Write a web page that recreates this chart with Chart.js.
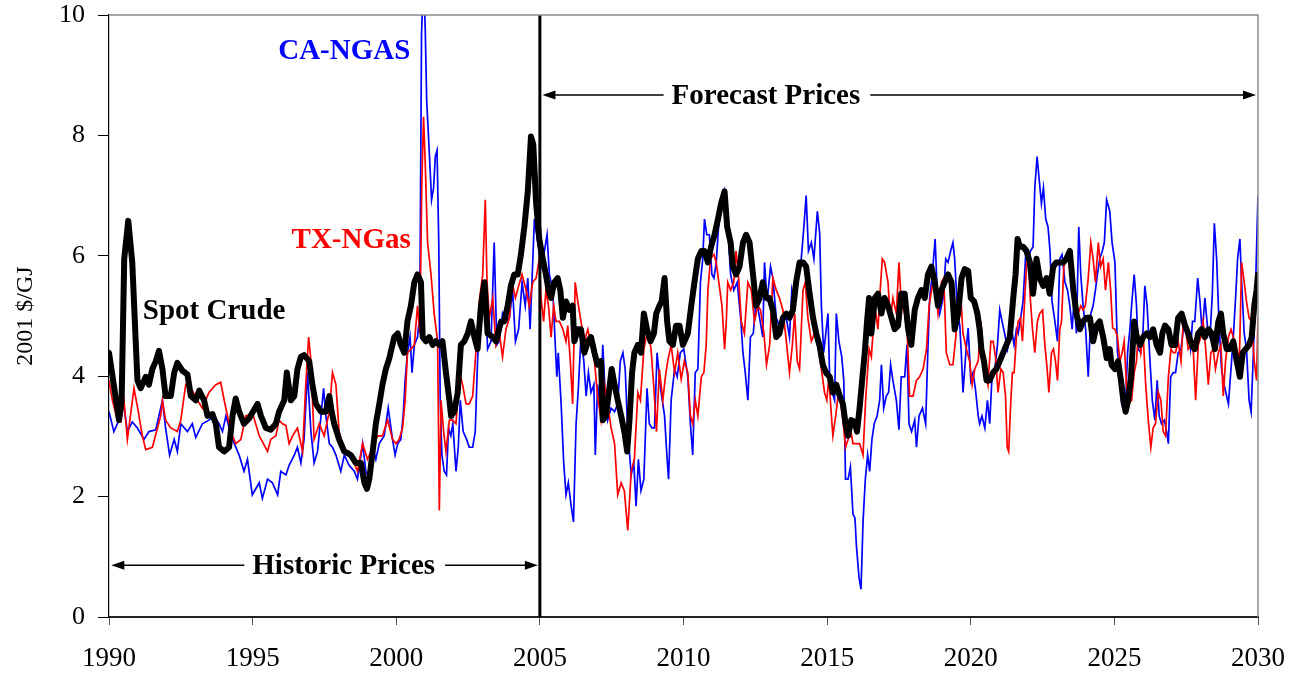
<!DOCTYPE html>
<html>
<head>
<meta charset="utf-8">
<script src="https://cdn.jsdelivr.net/npm/chart.js@4.4.1/dist/chart.umd.min.js"></script>
<style>
  html, body { margin: 0; padding: 0; background: #ffffff; }
  #wrap { width: 1306px; height: 677px; }
</style>
</head>
<body>
<div id="wrap"><canvas id="chart" width="1306" height="677"></canvas></div>
<script>
// Axis ticks
const xTickYears = [1990, 1995, 2000, 2005, 2010, 2015, 2020, 2025, 2030];
const yTickValues = [0, 2, 4, 6, 8, 10];
// Boundary between historic and forecast prices
const forecastStartYear = 2005;

// Spot crude oil price, 2001 $/GJ
const crudeYears = [
  1990.00,1990.35,1990.44,1990.53,1990.67,1990.81,1990.93,1990.99,1991.10,1991.28,1991.39,1991.51,1991.63,1991.74,1991.86,1991.97,
  1992.15,1992.27,1992.38,1992.56,1992.73,1992.85,1993.02,1993.14,1993.31,1993.43,1993.60,1993.72,1993.83,1994.01,1994.18,1994.30,
  1994.41,1994.53,1994.70,1994.88,1995.17,1995.29,1995.46,1995.63,1995.81,1995.92,1996.10,1996.19,1996.33,1996.45,1996.56,1996.68,
  1996.79,1996.97,1997.08,1997.20,1997.38,1997.55,1997.67,1997.75,1997.84,1998.01,1998.19,1998.42,1998.59,1998.77,1998.89,1998.98,
  1999.06,1999.18,1999.29,1999.41,1999.52,1999.64,1999.76,1999.93,2000.05,2000.16,2000.28,2000.39,2000.51,2000.63,2000.74,2000.86,
  2000.92,2001.03,2001.15,2001.27,2001.38,2001.50,2001.61,2001.73,2001.85,2001.91,2002.02,2002.14,2002.25,2002.37,2002.49,2002.60,
  2002.72,2002.83,2002.95,2003.07,2003.18,2003.36,2003.47,2003.65,2003.76,2003.88,2003.99,2004.11,2004.23,2004.34,2004.46,2004.58,
  2004.69,2004.77,2004.87,2004.98,2005.10,2005.21,2005.30,2005.39,2005.50,2005.62,2005.71,2005.80,2005.91,2006.03,2006.14,2006.20,
  2006.32,2006.43,2006.55,2006.67,2006.78,2006.90,2007.01,2007.13,2007.19,2007.30,2007.42,2007.50,2007.60,2007.71,2007.83,2007.94,
  2008.04,2008.12,2008.21,2008.29,2008.41,2008.52,2008.62,2008.73,2008.85,2008.97,2009.05,2009.16,2009.24,2009.34,2009.43,2009.51,
  2009.63,2009.74,2009.86,2009.98,2010.15,2010.27,2010.38,2010.50,2010.62,2010.73,2010.85,2010.96,2011.08,2011.20,2011.31,2011.43,
  2011.52,2011.64,2011.72,2011.83,2011.95,2012.07,2012.18,2012.30,2012.42,2012.53,2012.65,2012.76,2012.88,2012.99,2013.11,2013.23,
  2013.34,2013.46,2013.58,2013.69,2013.81,2013.92,2014.04,2014.16,2014.27,2014.39,2014.51,2014.62,2014.74,2014.85,2014.97,2015.09,
  2015.20,2015.32,2015.44,2015.55,2015.64,2015.73,2015.84,2015.96,2016.04,2016.13,2016.23,2016.31,2016.39,2016.46,2016.54,2016.66,
  2016.77,2016.89,2017.00,2017.12,2017.24,2017.35,2017.47,2017.58,2017.70,2017.82,2017.93,2018.05,2018.16,2018.28,2018.40,2018.51,
  2018.63,2018.75,2018.86,2018.98,2019.09,2019.21,2019.33,2019.44,2019.56,2019.68,2019.79,2019.91,2020.00,2020.12,2020.23,2020.31,
  2020.37,2020.46,2020.55,2020.66,2020.78,2020.89,2021.01,2021.13,2021.24,2021.36,2021.48,2021.56,2021.63,2021.71,2021.82,2021.94,
  2022.06,2022.17,2022.29,2022.40,2022.52,2022.64,2022.75,2022.87,2022.98,2023.10,2023.22,2023.33,2023.45,2023.57,2023.68,2023.80,
  2023.91,2024.03,2024.15,2024.26,2024.38,2024.49,2024.61,2024.73,2024.84,2024.90,2025.02,2025.13,2025.23,2025.31,2025.39,2025.48,
  2025.58,2025.69,2025.78,2025.89,2026.00,2026.12,2026.24,2026.35,2026.47,2026.59,2026.67,2026.76,2026.88,2026.99,2027.11,2027.22,
  2027.34,2027.46,2027.57,2027.69,2027.80,2027.92,2028.04,2028.15,2028.27,2028.39,2028.50,2028.62,2028.71,2028.79,2028.91,2029.02,
  2029.14,2029.26,2029.37,2029.47,2029.57,2029.69,2029.78,2029.87,2029.95,2030.00
];
const crudeValues = [
  4.39,3.27,3.60,5.95,6.58,5.89,4.58,3.93,3.80,3.99,3.86,4.12,4.25,4.42,4.12,3.67,
  3.67,4.06,4.22,4.09,4.03,3.67,3.60,3.76,3.60,3.34,3.37,3.21,2.82,2.75,2.82,3.34,
  3.63,3.41,3.21,3.30,3.54,3.34,3.14,3.11,3.21,3.41,3.60,4.06,3.60,3.67,4.12,4.32,
  4.35,4.25,3.86,3.54,3.41,3.41,3.67,3.41,3.21,2.95,2.75,2.69,2.56,2.56,2.23,2.13,
  2.29,2.75,3.21,3.54,3.86,4.12,4.30,4.65,4.71,4.52,4.39,4.91,5.17,5.56,5.69,5.56,
  4.65,4.58,4.65,4.52,4.58,4.52,4.58,4.06,3.60,3.34,3.41,3.73,4.52,4.58,4.71,4.91,
  4.65,4.45,5.17,5.56,4.71,4.65,4.58,4.91,4.91,5.17,5.50,5.69,5.69,6.02,6.48,7.07,
  7.98,7.85,6.87,6.28,5.95,5.69,5.43,5.30,5.56,5.63,5.43,4.97,5.24,5.10,5.17,4.58,
  4.78,4.78,4.39,4.58,4.65,4.39,4.19,4.25,3.27,3.34,3.80,4.12,3.86,3.60,3.34,3.08,
  2.75,3.27,4.06,4.39,4.52,4.39,5.04,4.78,4.58,4.71,5.04,5.17,5.24,5.63,4.91,4.58,
  4.52,4.84,4.84,4.52,4.71,5.17,5.56,5.95,6.08,6.08,5.89,6.15,6.35,6.61,6.87,7.07,
  6.48,6.22,5.82,5.69,5.82,6.22,6.35,6.22,5.69,5.17,5.30,5.56,5.30,5.30,5.10,4.65,
  4.71,4.97,5.04,4.97,5.10,5.56,5.89,5.89,5.82,5.37,4.97,4.71,4.50,4.19,4.05,3.99,
  3.73,3.86,3.67,3.54,3.21,3.01,3.27,3.24,3.08,3.47,3.99,4.39,4.91,5.30,4.71,5.30,
  5.37,5.04,5.30,5.17,4.97,4.78,4.84,5.37,5.37,4.78,4.52,5.10,5.30,5.43,5.30,5.69,
  5.82,5.56,5.17,5.43,5.56,5.69,5.56,4.78,5.04,5.63,5.78,5.75,5.30,5.24,5.04,4.78,
  4.45,4.25,3.93,3.93,4.06,4.12,4.25,4.39,4.52,4.65,5.30,5.69,6.28,6.15,6.15,6.08,
  5.89,5.37,5.95,5.63,5.50,5.63,5.37,5.82,5.89,5.89,5.89,5.95,6.08,5.43,5.04,4.78,
  4.91,4.97,4.97,4.58,4.84,4.91,4.65,4.30,4.45,4.19,4.12,4.25,3.93,3.60,3.41,3.60,
  3.99,4.91,4.65,4.52,4.65,4.71,4.65,4.78,4.52,4.39,4.71,4.84,4.78,4.52,4.52,4.97,
  5.04,4.84,4.71,4.52,4.45,4.71,4.78,4.65,4.78,4.71,4.45,4.91,5.04,4.71,4.45,4.45,
  4.58,4.25,3.99,4.39,4.45,4.52,4.65,5.17,5.43,5.69
];

// Texas natural gas price, 2001 $/GJ
const txGasYears = [
  1990.00,1990.12,1990.29,1990.41,1990.52,1990.64,1990.87,1991.02,1991.16,1991.28,1991.51,1991.80,1991.86,1991.97,1992.15,1992.38,
  1992.50,1992.67,1992.90,1993.08,1993.25,1993.48,1993.72,1993.89,1994.01,1994.24,1994.41,1994.59,1994.76,1995.00,1995.23,1995.52,
  1995.63,1995.81,1995.92,1996.04,1996.16,1996.27,1996.39,1996.56,1996.74,1996.85,1996.95,1997.03,1997.14,1997.32,1997.49,1997.67,
  1997.78,1997.90,1998.01,1998.19,1998.36,1998.48,1998.65,1998.83,1999.00,1999.18,1999.35,1999.52,1999.70,1999.87,1999.99,2000.10,
  2000.22,2000.31,2000.39,2000.51,2000.63,2000.74,2000.82,2000.89,2000.95,2001.01,2001.09,2001.21,2001.32,2001.44,2001.50,2001.56,
  2001.65,2001.73,2001.85,2001.96,2002.08,2002.20,2002.31,2002.43,2002.54,2002.66,2002.78,2002.89,2003.01,2003.10,2003.16,2003.24,
  2003.36,2003.47,2003.59,2003.70,2003.82,2003.94,2004.03,2004.15,2004.26,2004.38,2004.52,2004.63,2004.75,2004.87,2004.98,2005.04,
  2005.13,2005.21,2005.30,2005.39,2005.48,2005.56,2005.68,2005.80,2005.91,2005.97,2006.06,2006.14,2006.23,2006.32,2006.43,2006.55,
  2006.67,2006.78,2006.90,2007.01,2007.13,2007.25,2007.36,2007.48,2007.60,2007.71,2007.83,2007.94,2008.06,2008.18,2008.29,2008.41,
  2008.50,2008.62,2008.76,2008.87,2008.97,2009.06,2009.16,2009.28,2009.37,2009.45,2009.57,2009.69,2009.80,2009.92,2010.03,2010.15,
  2010.24,2010.32,2010.41,2010.50,2010.62,2010.71,2010.79,2010.85,2010.94,2011.06,2011.14,2011.23,2011.34,2011.43,2011.49,2011.54,
  2011.64,2011.75,2011.83,2011.93,2012.01,2012.12,2012.24,2012.36,2012.47,2012.59,2012.68,2012.80,2012.89,2013.00,2013.11,2013.23,
  2013.34,2013.46,2013.58,2013.69,2013.79,2013.87,2013.96,2014.04,2014.16,2014.24,2014.33,2014.45,2014.56,2014.68,2014.80,2014.91,
  2014.99,2015.06,2015.15,2015.20,2015.30,2015.38,2015.46,2015.55,2015.64,2015.73,2015.81,2015.90,2016.02,2016.13,2016.25,2016.34,
  2016.46,2016.54,2016.66,2016.77,2016.83,2016.92,2017.00,2017.12,2017.20,2017.29,2017.41,2017.50,2017.58,2017.70,2017.79,2017.87,
  2017.99,2018.11,2018.22,2018.34,2018.46,2018.55,2018.66,2018.75,2018.86,2018.98,2019.06,2019.15,2019.27,2019.38,2019.48,2019.56,
  2019.64,2019.73,2019.85,2019.96,2020.05,2020.14,2020.26,2020.35,2020.43,2020.51,2020.60,2020.70,2020.78,2020.86,2020.95,2021.05,
  2021.13,2021.21,2021.27,2021.32,2021.39,2021.45,2021.51,2021.59,2021.65,2021.73,2021.80,2021.88,2021.94,2022.00,2022.08,2022.15,
  2022.23,2022.32,2022.40,2022.50,2022.58,2022.66,2022.72,2022.81,2022.88,2022.95,2023.02,2023.10,2023.16,2023.24,2023.33,2023.45,
  2023.53,2023.62,2023.74,2023.83,2023.91,2023.99,2024.09,2024.18,2024.26,2024.34,2024.44,2024.52,2024.61,2024.69,2024.79,2024.87,
  2024.94,2025.02,2025.11,2025.19,2025.27,2025.34,2025.42,2025.50,2025.60,2025.69,2025.77,2025.83,2025.92,2026.00,2026.09,2026.18,
  2026.27,2026.35,2026.43,2026.53,2026.62,2026.70,2026.78,2026.88,2026.97,2027.05,2027.13,2027.22,2027.32,2027.40,2027.48,2027.57,
  2027.67,2027.75,2027.83,2027.92,2028.01,2028.09,2028.18,2028.27,2028.36,2028.44,2028.52,2028.62,2028.71,2028.79,2028.87,2028.97,
  2029.06,2029.14,2029.26,2029.35,2029.43,2029.52,2029.60,2029.69,2029.78,2029.87,2029.95,2030.00
];
const txGasValues = [
  3.93,3.60,3.27,3.24,3.60,2.95,3.80,3.41,3.01,2.78,2.82,3.34,3.60,3.27,3.14,3.08,
  3.27,3.86,3.76,3.60,3.47,3.73,3.86,3.90,3.60,3.08,2.88,2.95,3.34,3.38,3.01,2.75,
  2.95,3.01,3.27,3.21,3.18,2.88,3.01,3.14,2.75,3.86,4.65,4.25,2.95,3.21,3.01,3.41,
  4.06,3.86,3.08,2.75,2.75,2.62,2.42,2.88,2.62,2.82,3.01,3.01,3.27,2.95,2.88,2.95,
  3.14,3.60,4.39,4.45,4.52,5.17,4.71,7.20,8.31,7.52,6.22,5.69,5.04,4.58,1.77,3.60,
  3.08,2.75,3.27,3.27,3.21,4.06,3.86,3.54,3.54,3.67,4.45,5.24,5.69,6.93,5.56,4.97,
  5.30,4.52,4.71,4.32,4.78,4.97,5.56,5.30,5.50,5.69,5.43,5.17,5.56,5.63,5.95,5.30,
  4.91,5.43,5.17,4.65,5.17,4.91,4.91,4.78,4.58,4.84,4.25,3.54,5.56,5.24,4.91,4.58,
  4.78,4.52,4.25,3.67,3.27,3.86,3.54,3.14,2.88,2.03,2.23,2.10,1.44,2.42,2.62,3.73,
  3.60,4.45,4.78,4.45,3.80,3.08,4.12,3.60,3.99,4.25,4.52,4.06,4.39,3.95,4.25,4.06,
  3.34,3.21,3.60,3.34,3.99,4.06,4.52,5.43,5.95,6.02,5.89,5.56,5.17,4.45,4.91,5.56,
  5.43,5.56,6.08,5.56,4.91,4.71,5.56,5.43,4.91,5.17,5.10,4.71,4.19,4.52,5.63,5.43,
  5.30,5.10,4.58,4.06,4.52,5.04,4.25,4.12,5.43,5.56,4.97,4.58,4.71,4.52,4.12,3.73,
  3.60,3.99,3.34,3.01,3.34,3.67,3.60,3.27,2.82,2.95,3.14,2.88,2.88,2.88,2.69,3.60,
  4.45,4.32,5.17,4.78,5.30,5.95,5.89,5.56,4.91,5.30,5.04,5.89,5.24,5.04,4.71,3.67,
  3.67,3.93,3.99,4.12,4.45,5.17,5.50,5.56,5.04,5.56,5.63,4.39,4.19,4.19,4.65,5.24,
  5.43,4.71,4.45,4.25,3.86,4.12,4.25,4.91,4.25,4.12,3.86,4.58,4.58,4.32,3.73,4.12,
  4.06,3.67,2.82,2.75,3.54,4.06,4.06,4.65,4.91,4.97,4.58,5.30,5.82,6.02,5.24,4.78,
  4.39,4.91,5.04,5.10,4.52,4.12,3.73,4.39,4.45,4.25,3.93,4.78,4.91,5.82,5.95,6.08,
  5.56,5.30,5.04,5.17,5.10,5.17,5.63,6.22,5.95,5.56,6.22,5.82,5.95,5.43,5.89,5.43,
  4.80,4.78,4.65,4.25,4.39,4.58,3.86,3.54,3.60,4.06,4.25,4.71,4.39,4.71,3.86,3.27,
  2.82,3.14,3.21,3.73,3.60,3.08,3.01,3.99,4.45,4.39,4.39,4.58,4.25,4.91,4.78,4.45,
  4.52,4.39,3.60,4.52,4.65,4.91,4.45,3.86,4.39,4.45,4.12,4.39,4.52,3.67,4.25,4.65,
  4.78,4.65,4.45,4.25,5.89,5.56,5.24,4.97,4.91,4.25,3.93,4.97
];

// California natural gas price, 2001 $/GJ
const caGasYears = [
  1990.00,1990.17,1990.29,1990.49,1990.64,1990.81,1990.99,1991.22,1991.39,1991.63,1991.86,1991.97,1992.11,1992.27,1992.38,1992.50,
  1992.73,1992.90,1993.02,1993.25,1993.48,1993.66,1993.83,1993.95,1994.07,1994.30,1994.53,1994.70,1994.82,1994.99,1995.23,1995.34,
  1995.52,1995.69,1995.87,1995.98,1996.16,1996.27,1996.45,1996.56,1996.68,1996.79,1996.91,1997.03,1997.14,1997.26,1997.38,1997.47,
  1997.55,1997.67,1997.78,1997.90,1998.07,1998.19,1998.36,1998.54,1998.65,1998.83,1998.94,1999.06,1999.18,1999.29,1999.41,1999.58,
  1999.72,1999.87,1999.96,2000.05,2000.16,2000.24,2000.31,2000.39,2000.48,2000.55,2000.63,2000.74,2000.82,2000.88,2000.93,2000.98,
  2001.01,2001.06,2001.15,2001.23,2001.30,2001.36,2001.42,2001.48,2001.53,2001.59,2001.67,2001.75,2001.82,2001.90,2001.97,2002.08,
  2002.16,2002.23,2002.33,2002.45,2002.54,2002.66,2002.75,2002.83,2002.92,2003.01,2003.10,2003.18,2003.30,2003.41,2003.50,2003.59,
  2003.70,2003.82,2003.94,2004.05,2004.15,2004.26,2004.38,2004.49,2004.58,2004.66,2004.75,2004.81,2004.89,2004.98,2005.04,2005.16,
  2005.25,2005.33,2005.45,2005.53,2005.59,2005.64,2005.74,2005.83,2005.91,2005.99,2006.09,2006.17,2006.26,2006.34,2006.43,2006.53,
  2006.61,2006.69,2006.78,2006.88,2006.93,2007.01,2007.11,2007.19,2007.27,2007.36,2007.48,2007.60,2007.71,2007.80,2007.89,2007.97,
  2008.06,2008.18,2008.27,2008.35,2008.43,2008.52,2008.62,2008.73,2008.81,2008.90,2008.99,2009.08,2009.20,2009.34,2009.43,2009.48,
  2009.57,2009.69,2009.78,2009.89,2010.01,2010.15,2010.24,2010.32,2010.41,2010.50,2010.59,2010.67,2010.73,2010.81,2010.90,2010.99,
  2011.06,2011.14,2011.22,2011.31,2011.43,2011.54,2011.64,2011.75,2011.87,2011.99,2012.07,2012.15,2012.24,2012.33,2012.43,2012.53,
  2012.65,2012.76,2012.82,2012.91,2013.03,2013.11,2013.23,2013.34,2013.46,2013.58,2013.69,2013.77,2013.87,2013.96,2014.10,2014.19,
  2014.27,2014.35,2014.45,2014.54,2014.66,2014.74,2014.80,2014.88,2014.97,2015.03,2015.09,2015.18,2015.26,2015.32,2015.41,2015.51,
  2015.58,2015.64,2015.73,2015.81,2015.90,2015.97,2016.02,2016.11,2016.18,2016.25,2016.33,2016.41,2016.48,2016.56,2016.64,2016.74,
  2016.83,2016.89,2016.97,2017.06,2017.14,2017.21,2017.29,2017.41,2017.50,2017.58,2017.70,2017.78,2017.85,2017.94,2018.05,2018.11,
  2018.20,2018.32,2018.43,2018.50,2018.57,2018.66,2018.76,2018.83,2018.92,2019.04,2019.13,2019.21,2019.30,2019.38,2019.44,2019.54,
  2019.62,2019.67,2019.73,2019.83,2019.91,2020.00,2020.08,2020.16,2020.26,2020.31,2020.39,2020.49,2020.58,2020.66,2020.74,2020.84,
  2020.93,2021.01,2021.09,2021.18,2021.28,2021.36,2021.42,2021.51,2021.59,2021.65,2021.74,2021.82,2021.92,2022.00,2022.08,2022.17,
  2022.23,2022.31,2022.37,2022.46,2022.53,2022.61,2022.69,2022.76,2022.83,2022.93,2023.02,2023.10,2023.18,2023.28,2023.37,2023.45,
  2023.53,2023.60,2023.68,2023.76,2023.83,2023.91,2024.00,2024.09,2024.18,2024.26,2024.34,2024.41,2024.49,2024.58,2024.65,2024.73,
  2024.84,2024.92,2025.02,2025.11,2025.19,2025.25,2025.31,2025.39,2025.46,2025.54,2025.62,2025.69,2025.77,2025.83,2025.92,2026.00,
  2026.06,2026.14,2026.24,2026.32,2026.41,2026.49,2026.56,2026.64,2026.74,2026.82,2026.88,2026.96,2027.05,2027.13,2027.22,2027.32,
  2027.40,2027.48,2027.57,2027.65,2027.72,2027.80,2027.90,2027.98,2028.06,2028.15,2028.25,2028.33,2028.41,2028.48,2028.56,2028.64,
  2028.73,2028.82,2028.88,2028.97,2029.06,2029.14,2029.22,2029.29,2029.37,2029.43,2029.52,2029.60,2029.69,2029.76,2029.84,2029.92,
  2029.97,2030.00
];
const caGasValues = [
  3.41,3.08,3.21,3.60,3.08,3.24,3.14,2.95,3.08,3.11,3.60,3.14,2.69,2.95,2.75,3.21,
  3.08,3.21,2.98,3.21,3.27,3.34,3.21,3.08,3.34,2.95,2.69,2.42,2.62,2.03,2.23,1.97,
  2.29,2.23,2.03,2.42,2.36,2.52,2.69,2.82,2.56,2.95,4.06,3.08,2.56,2.75,3.34,3.80,
  3.34,2.88,2.82,2.69,2.42,2.69,2.52,2.42,2.29,2.88,2.42,2.29,2.82,2.62,2.88,3.01,
  3.47,2.95,2.69,2.88,2.95,3.34,3.93,4.39,4.65,4.06,4.52,4.65,5.04,9.68,10.40,10.20,
  9.75,8.57,7.72,6.93,7.13,7.65,7.75,6.22,3.60,2.69,2.42,2.36,3.14,3.01,3.21,2.42,
  2.82,3.60,3.08,2.95,2.82,2.82,3.08,4.25,5.04,5.43,5.43,4.45,4.58,6.22,4.52,4.58,
  5.04,4.91,4.97,5.43,4.58,4.78,5.56,5.17,5.63,4.78,5.89,6.61,6.35,6.02,5.82,6.08,
  6.35,5.69,5.43,4.58,3.99,4.39,3.54,2.56,2.03,2.23,1.84,1.58,3.21,3.80,4.65,4.25,
  3.67,4.06,3.73,3.86,2.69,3.86,3.41,4.52,3.73,3.27,3.47,3.41,3.54,4.25,4.39,4.12,
  3.08,2.36,2.56,1.84,2.62,2.10,2.29,3.80,3.21,3.14,3.14,4.39,3.80,3.34,2.62,2.29,
  3.60,4.12,3.99,4.39,4.45,3.99,3.21,2.69,4.06,4.12,5.56,5.95,6.61,6.35,6.35,5.69,
  5.63,5.89,6.48,6.80,7.07,6.48,5.69,5.43,5.56,4.97,4.39,4.06,3.60,4.65,4.71,5.30,
  4.97,4.65,5.89,5.24,5.82,5.63,4.97,4.84,4.91,4.97,4.65,5.43,5.17,5.56,5.95,6.48,
  7.00,6.08,6.22,5.95,6.74,6.38,5.17,4.39,4.78,5.04,3.93,3.73,3.60,5.04,4.58,4.32,
  3.93,2.29,2.29,2.49,1.71,1.64,1.18,0.66,0.46,1.58,2.29,2.69,2.42,2.95,3.21,3.34,
  3.60,4.19,3.47,3.67,3.73,4.19,3.93,3.60,3.11,3.99,3.99,4.52,3.21,3.08,3.27,2.82,
  3.34,3.47,3.21,4.32,5.30,5.69,6.28,5.43,5.04,5.30,5.95,5.89,6.08,6.22,5.95,5.04,
  4.84,4.39,3.73,4.39,4.80,3.93,4.06,3.80,3.34,3.21,3.34,3.14,3.60,3.21,3.99,4.12,
  4.52,5.10,4.91,4.71,4.45,4.65,4.78,4.52,4.78,4.71,4.97,5.24,6.08,5.95,6.08,6.15,
  7.13,7.65,7.33,6.87,7.13,6.61,6.48,6.08,5.24,4.91,4.58,5.95,6.02,5.56,5.43,5.17,
  4.78,5.30,4.71,6.48,5.69,5.17,4.78,3.99,5.04,5.17,5.43,5.69,5.95,6.08,6.22,6.93,
  6.74,6.22,5.89,4.39,4.12,3.60,3.73,3.54,4.39,4.78,5.30,5.69,5.17,4.45,4.39,4.78,
  5.50,5.17,4.25,3.60,3.27,3.93,3.34,3.21,3.27,3.08,2.88,3.99,4.06,4.06,4.39,4.45,
  4.78,4.91,4.71,4.45,4.91,4.91,5.63,5.24,4.71,5.30,4.78,4.65,5.37,6.54,5.95,4.91,
  4.12,3.86,3.73,3.54,4.12,4.65,5.30,5.95,6.28,5.56,4.71,4.45,3.60,3.41,4.39,5.56,
  6.48,7.00
];

const toPoints = (xs, ys) => xs.map((x, i) => ({ x: x, y: ys[i] }));

const SERIF = '"Liberation Serif", "Times New Roman", "DejaVu Serif", serif';

// Text labels, arrows and the plot frame
const annotationPlugin = {
  id: 'priceAnnotations',
  afterDatasetsDraw(chart, args, opts) {
    const ctx = chart.ctx;
    const xs = chart.scales.x, ys = chart.scales.y;
    const area = chart.chartArea;

    // gray frame on top and right
    ctx.save();
    ctx.strokeStyle = '#8c8c8c';
    ctx.lineWidth = 1.5;
    ctx.beginPath();
    ctx.moveTo(area.left, area.top);
    ctx.lineTo(area.right, area.top);
    ctx.lineTo(area.right, area.bottom);
    ctx.stroke();
    ctx.restore();

    const drawArrowHead = (x, y, dir) => {
      ctx.beginPath();
      ctx.moveTo(x, y);
      ctx.lineTo(x - dir * 13, y - 4.5);
      ctx.lineTo(x - dir * 13, y + 4.5);
      ctx.closePath();
      ctx.fill();
    };

    for (const a of opts.arrows) {
      const y = ys.getPixelForValue(a.y);
      const x0 = xs.getPixelForValue(a.from);
      const x1 = xs.getPixelForValue(a.to);
      const xc = xs.getPixelForValue(a.textAt);
      ctx.save();
      ctx.font = 'bold 29px ' + SERIF;
      const w = ctx.measureText(a.text).width;
      ctx.fillStyle = '#000';
      ctx.strokeStyle = '#000';
      ctx.lineWidth = 1.6;
      ctx.beginPath();
      ctx.moveTo(x0 + 4, y);
      ctx.lineTo(xc - w / 2 - 8, y);
      ctx.moveTo(xc + w / 2 + 10, y);
      ctx.lineTo(x1 - 4, y);
      ctx.stroke();
      drawArrowHead(x0, y, -1);
      drawArrowHead(x1, y, 1);
      ctx.textAlign = 'center';
      ctx.textBaseline = 'middle';
      ctx.fillText(a.text, xc, y + 1);
      ctx.restore();
    }

    for (const t of opts.labels) {
      ctx.save();
      ctx.font = 'bold 29px ' + SERIF;
      ctx.fillStyle = t.color;
      ctx.textAlign = 'center';
      ctx.textBaseline = 'middle';
      ctx.fillText(t.text, xs.getPixelForValue(t.x), ys.getPixelForValue(t.y));
      ctx.restore();
    }
  }
};

new Chart(document.getElementById('chart'), {
  type: 'line',
  data: {
    datasets: [
      {
        label: 'Forecast start',
        data: [{ x: forecastStartYear, y: yTickValues[0] }, { x: forecastStartYear, y: yTickValues[yTickValues.length - 1] }],
        borderColor: '#000000',
        borderWidth: 3,
        pointRadius: 0,
        clip: 0
      },
      {
        label: 'Spot Crude',
        data: toPoints(crudeYears, crudeValues),
        borderColor: '#000000',
        borderWidth: 6,
        borderJoinStyle: 'round',
        borderCapStyle: 'round',
        pointRadius: 0
      },
      {
        label: 'TX-NGas',
        data: toPoints(txGasYears, txGasValues),
        borderColor: '#ff0000',
        borderWidth: 1.7,
        pointRadius: 0
      },
      {
        label: 'CA-NGAS',
        data: toPoints(caGasYears, caGasValues),
        borderColor: '#0000ff',
        borderWidth: 1.7,
        pointRadius: 0,
        clip: 0
      }
    ]
  },
  options: {
    responsive: false,
    animation: false,
    devicePixelRatio: 1,
    events: [],
    layout: { padding: { left: 0, right: 48, top: 15, bottom: 0 } },
    elements: { line: { tension: 0 } },
    plugins: {
      legend: { display: false },
      tooltip: { enabled: false },
      priceAnnotations: {
        arrows: [
          { text: 'Historic Prices', from: 1990.08, to: 2004.93, textAt: 1998.17, y: 0.86 },
          { text: 'Forecast Prices', from: 2005.09, to: 2029.93, textAt: 2012.87, y: 8.67 }
        ],
        labels: [
          { text: 'CA-NGAS', color: '#0000ff', x: 1998.19, y: 9.39 },
          { text: 'TX-NGas', color: '#ff0000', x: 1998.43, y: 6.26 },
          { text: 'Spot Crude', color: '#000000', x: 1993.66, y: 5.07 }
        ]
      }
    },
    scales: {
      x: {
        type: 'linear',
        min: xTickYears[0],
        max: xTickYears[xTickYears.length - 1],
        afterBuildTicks: (s) => { s.ticks = xTickYears.map(v => ({ value: v })); },
        afterFit: (s) => { s.height = 60; s.paddingLeft = 0; s.paddingRight = 0; },
        grid: { display: true, drawOnChartArea: false, drawTicks: true, tickLength: 8, color: '#555555', lineWidth: 1 },
        border: { display: true, color: '#222222', width: 2 },
        ticks: {
          color: '#000000',
          padding: 18,
          maxRotation: 0,
          autoSkip: false,
          font: { family: SERIF, size: 27 },
          callback: (v) => String(v)
        }
      },
      y: {
        type: 'linear',
        min: yTickValues[0],
        max: yTickValues[yTickValues.length - 1],
        afterBuildTicks: (s) => { s.ticks = yTickValues.map(v => ({ value: v })); },
        afterFit: (s) => { s.width = 109; s.paddingTop = 0; s.paddingBottom = 0; },
        grid: { display: true, drawOnChartArea: false, drawTicks: true, tickLength: 11, color: '#000000', lineWidth: 1 },
        border: { display: true, color: '#000000', width: 1.2 },
        title: {
          display: true,
          text: '2001 $/GJ',
          color: '#000000',
          font: { family: SERIF, size: 24 },
          padding: { top: 11, bottom: 0 }
        },
        ticks: {
          color: '#000000',
          padding: 13,
          autoSkip: false,
          font: { family: SERIF, size: 26 },
          callback: (v) => String(v)
        }
      }
    }
  },
  plugins: [annotationPlugin]
});
</script>
</body>
</html>
